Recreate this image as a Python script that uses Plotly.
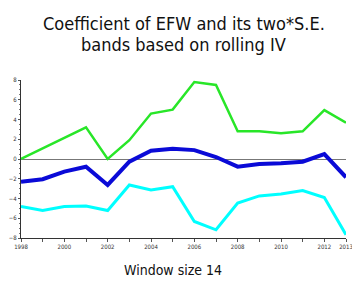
import plotly.graph_objects as go

years = list(range(1998, 2014))
upper = [0.0, 1.07, 2.13, 3.2, 0.0, 1.9, 4.6, 5.0, 7.8, 7.5, 2.8, 2.8, 2.6, 2.8, 4.95, 3.67]
coef = [-2.3, -2.05, -1.28, -0.78, -2.63, -0.27, 0.84, 1.04, 0.9, 0.2, -0.78, -0.5, -0.43, -0.27, 0.5, -1.85]
lower = [-4.82, -5.22, -4.82, -4.75, -5.22, -2.63, -3.13, -2.8, -6.33, -7.17, -4.47, -3.74, -3.54, -3.2, -3.9, -7.68]

xtick_vals = years
xtick_text = [str(y) if (y % 2 == 0 or y == 2013) else "" for y in years]
ytick_vals = [-8, -6, -4, -2, 0, 2, 4, 6, 8]

title_lines = ["Coefficient of EFW and its two*S.E.", "bands based on rolling IV"]
xlabel = "Window size 14"

narrow = "DejaVu Sans Condensed, Liberation Sans Narrow, Arial Narrow, Liberation Sans, sans-serif"

fig = go.Figure()
fig.add_trace(go.Scatter(x=years, y=upper, mode="lines",
                         line=dict(color="rgb(40,230,40)", width=2.5)))
fig.add_trace(go.Scatter(x=years, y=lower, mode="lines",
                         line=dict(color="rgb(0,255,255)", width=3)))
fig.add_trace(go.Scatter(x=years, y=coef, mode="lines",
                         line=dict(color="rgb(10,10,215)", width=4)))

# page body has an 8px margin, so the figure is sized/margined to compensate
fig.update_layout(
    width=352, height=283,
    margin=dict(l=13, r=14, t=72, b=53, autoexpand=False),
    paper_bgcolor="white", plot_bgcolor="white",
    showlegend=False,
    xaxis=dict(range=[1998, 2013], tickvals=xtick_vals, ticktext=xtick_text,
               showgrid=False, zeroline=False, showline=True, linecolor="#333",
               linewidth=1, ticks="outside", ticklen=3, tickcolor="#555",
               automargin=False,
               tickfont=dict(family=narrow, size=6, color="#333")),
    yaxis=dict(range=[-8, 8], tickvals=ytick_vals,
               showgrid=False, zeroline=True, zerolinecolor="#777", zerolinewidth=1,
               showline=True, linecolor="#333", linewidth=1,
               ticks="outside", ticklen=2, tickcolor="#555", automargin=False,
               minor=dict(dtick=0.5, ticks="outside", ticklen=1, tickcolor="#777"),
               tickfont=dict(family=narrow, size=6, color="#333")),
    annotations=[
        dict(text=title_lines[0], xref="paper", yref="paper", x=0.5, y=1.0 + 57/158,
             xanchor="center", yanchor="middle", showarrow=False,
             font=dict(family=narrow, size=18, color="#111")),
        dict(text=title_lines[1], xref="paper", yref="paper", x=0.5, y=1.0 + 35/158,
             xanchor="center", yanchor="middle", showarrow=False,
             font=dict(family=narrow, size=18, color="#111")),
        dict(text=xlabel, xref="paper", yref="paper",
             x=0.31, y=-32/158, xanchor="left", yanchor="middle",
             showarrow=False,
             font=dict(family=narrow, size=14, color="#111")),
    ],
)

fig.write_html("out.html")
